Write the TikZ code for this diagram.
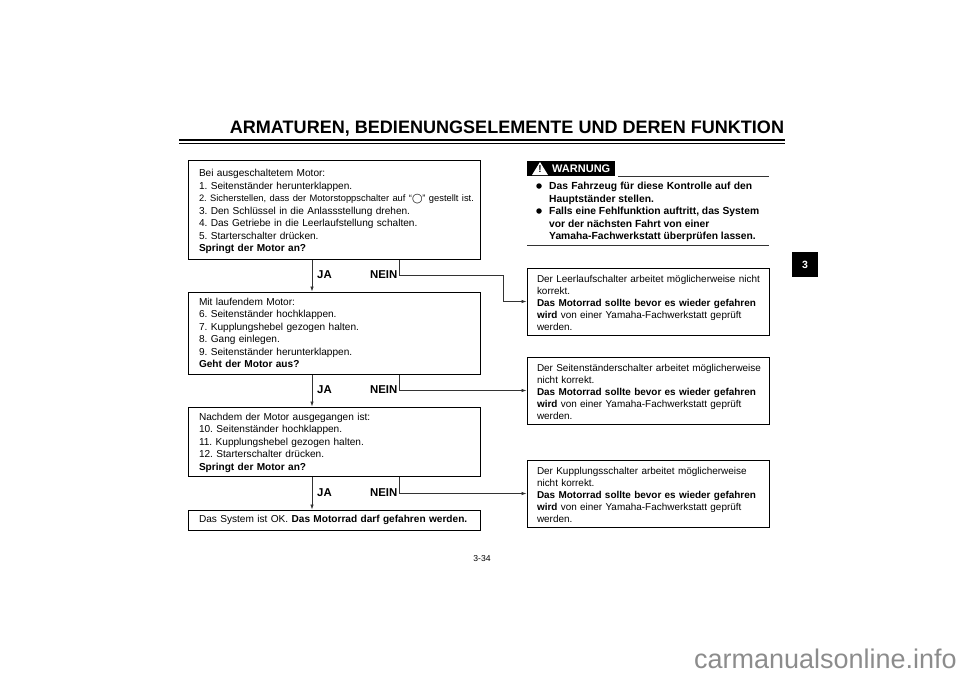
\documentclass[tikz,border=0pt]{standalone}
\usepackage{fontspec}
\setmainfont{Liberation Sans}
\newfontfamily\symfont{DejaVu Sans}
\usetikzlibrary{arrows.meta}
\definecolor{M34line}{gray}{0.2}
\newcommand{\MFill}[2]{\makebox[#1pt][s]{#2}}
\tikzset{M34box/.style={draw=black,line width=1pt,inner xsep=0pt,inner ysep=0pt,align=left},
         M34left/.style={M34box,minimum width=292pt,text width=284pt,
           font=\fontsize{10.1}{12.5}\selectfont,
           execute at begin node={\frenchspacing\leftskip=7pt\relax}},
         M34right/.style={M34box,minimum width=242pt,text width=230pt,
           font=\fontsize{9.95}{11.9}\selectfont,
           execute at begin node={\frenchspacing\leftskip=4pt\relax}},
         M34flow/.style={draw=M34line,line width=0.7pt,-{Latex[length=5pt,width=3.5pt]}},
         M34lab/.style={font=\fontsize{11.4}{12}\bfseries\selectfont,inner sep=0pt},
         M34warn/.style={font=\fontsize{10.3}{12.5}\bfseries\selectfont,inner sep=0pt,anchor=base west},
         M34dot/.style={circle,fill=black,inner sep=0pt,minimum size=5.5pt},
         M34rule/.style={draw=M34line,line width=1pt}}

\begin{document}
\begin{tikzpicture}[x=1pt,y=-1pt]
  \useasboundingbox (0,0) rectangle (960,678);
  % title and rules
  \node[inner sep=0pt,font=\fontsize{18.05}{22}\bfseries\selectfont] (title) at (507,128.5)
    {ARMATUREN, BEDIENUNGSELEMENTE UND DEREN FUNKTION};
  \coordinate (ruleL) at (179,140); \coordinate (ruleR) at (785,140);
  \draw[black,line width=1.6pt] (ruleL) -- (ruleR);
  \draw[black,line width=0.7pt] ([yshift=-3pt]ruleL) -- ([yshift=-3pt]ruleR);
  % questions on the left
  \node[M34left,minimum height=99pt] (q1) at (334,209.5)
    {\rule{0pt}{12pt}Bei ausgeschaltetem Motor:\\
     1. Seitenständer herunterklappen.\\
     {\fontsize{9.35}{12.5}\selectfont 2. Sicherstellen, dass der Motorstoppschalter auf “{\symfont ◯}” gestellt ist.}\\
     3. Den Schlüssel in die Anlassstellung drehen.\\
     4. Das Getriebe in die Leerlaufstellung schalten.\\
     5. Starterschalter drücken.\\
     \textbf{Springt der Motor an?}};
  \node[M34left,minimum height=82pt] (q2) at (334,333)
    {Mit laufendem Motor:\\
     6. Seitenständer hochklappen.\\
     7. Kupplungshebel gezogen halten.\\
     8. Gang einlegen.\\
     9. Seitenständer herunterklappen.\\
     \textbf{Geht der Motor aus?}};
  \node[M34left,minimum height=69pt] (q3) at (334,441.5)
    {\rule{0pt}{10pt}Nachdem der Motor ausgegangen ist:\\
     10. Seitenständer hochklappen.\\
     11. Kupplungshebel gezogen halten.\\
     12. Starterschalter drücken.\\
     \textbf{Springt der Motor an?}};
  \node[M34left,minimum height=20pt] (q4) at (334,520)
    {Das System ist OK. \textbf{Das Motorrad darf gefahren werden.}};
  % results on the right
  \node[M34right,minimum height=67pt] (r1) at (648,301.5)
    {\rule{0pt}{10pt}Der Leerlaufschalter arbeitet möglicherweise nicht\\ korrekt.\\
     \textbf{Das Motorrad sollte bevor es wieder gefahren}\\
     \textbf{wird} von einer Yamaha-Fachwerkstatt geprüft\\ werden.};
  \node[M34right,minimum height=67pt] (r2) at (648,390.5)
    {\rule{0pt}{10pt}Der Seitenständerschalter arbeitet möglicherweise\\ nicht korrekt.\\
     \textbf{Das Motorrad sollte bevor es wieder gefahren}\\
     \textbf{wird} von einer Yamaha-Fachwerkstatt geprüft\\ werden.};
  \node[M34right,minimum height=67pt] (r3) at (648,493.5)
    {\rule{0pt}{10pt}Der Kupplungsschalter arbeitet möglicherweise\\ nicht korrekt.\\
     \textbf{Das Motorrad sollte bevor es wieder gefahren}\\
     \textbf{wird} von einer Yamaha-Fachwerkstatt geprüft\\ werden.};
  % connectors
  \foreach \a/\b in {q1/q2,q2/q3,q3/q4}
    \draw[M34flow] ([xshift=-22pt]\a.south) -- ([xshift=-22pt]\b.north);
  \coordinate (bend) at (503,275);
  \draw[M34flow] ([xshift=65.5pt]q1.south) |- (bend) |- (r1.west);
  \draw[M34flow] ([xshift=65.5pt]q2.south) |- (r2.west);
  \draw[M34flow] ([xshift=65.5pt]q3.south) |- (r3.west);
  \foreach \i/\y in {1/275,2/390,3/493} {
    \node[M34lab,anchor=west] (ja\i) at (317,\y) {JA};
    \node[M34lab,anchor=east] (nein\i) at (397.5,\y) {NEIN};
  }
  % warning
  \node[fill=black,minimum width=88pt,minimum height=15.5pt,inner sep=0pt] (warnbox) at (571,168.5) {};
  \fill[white] (532,175) -- (540,162) -- (548,175) -- cycle;
  \node[inner sep=0pt,font=\fontsize{10}{12}\bfseries\selectfont] (warnmark) at (540,169.5) {!};
  \node[inner sep=0pt,anchor=west,text=white,font=\fontsize{11}{12}\bfseries\selectfont] (warntext) at (552,169) {WARNUNG};
  \coordinate (warnA) at (618,176); \coordinate (warnB) at (769,176);
  \draw[M34rule] (warnA) -- (warnB);
  \coordinate (warnC) at (527,245); \coordinate (warnD) at (769,245);
  \draw[M34rule] (warnC) -- (warnD);
  \node[M34dot] (dot1) at (539,186) {};
  \node[M34dot] (dot2) at (539,211) {};
  \node[M34warn] (w1) at (549,189.5) {\MFill{203}{Das Fahrzeug für diese Kontrolle auf den}};
  \node[M34warn] (w2) at (549,202) {Hauptständer stellen.};
  \node[M34warn] (w3) at (549,214.5) {\MFill{210}{Falls eine Fehlfunktion auftritt, das System}};
  \node[M34warn] (w4) at (549,227) {vor der nächsten Fahrt von einer};
  \node[M34warn] (w5) at (549,239.5) {Yamaha-Fachwerkstatt überprüfen lassen.};
  % side tab, page number, site name
  \node[fill=black,text=white,minimum width=26pt,minimum height=25pt,inner sep=0pt,
        font=\fontsize{10.5}{12}\bfseries\selectfont] (tab) at (805,264.5) {3};
  \node[inner sep=0pt,font=\fontsize{8.6}{10}\selectfont] (page) at (482,559) {3-34};
  \node[inner sep=0pt,anchor=east,text=black!45,font=\fontsize{27}{30}\selectfont] (site) at (957,659) {carmanualsonline.info};
\end{tikzpicture}
\end{document}
